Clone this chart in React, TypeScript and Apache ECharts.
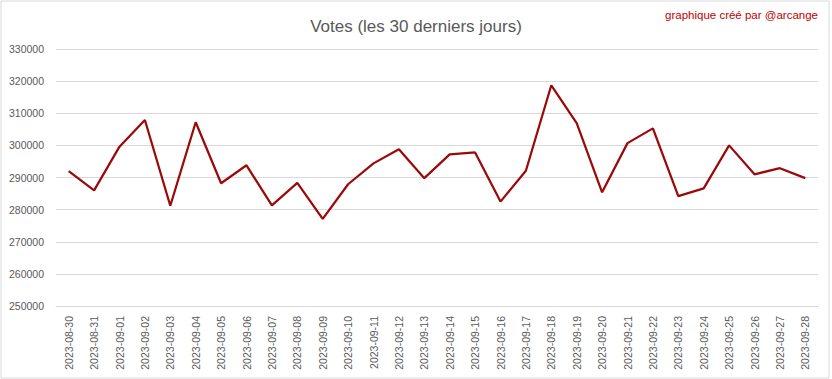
import React, { useEffect, useRef } from "react";
import * as echarts from "echarts";

const dates = [
  "2023-08-30", "2023-08-31", "2023-09-01", "2023-09-02", "2023-09-03",
  "2023-09-04", "2023-09-05", "2023-09-06", "2023-09-07", "2023-09-08",
  "2023-09-09", "2023-09-10", "2023-09-11", "2023-09-12", "2023-09-13",
  "2023-09-14", "2023-09-15", "2023-09-16", "2023-09-17", "2023-09-18",
  "2023-09-19", "2023-09-20", "2023-09-21", "2023-09-22", "2023-09-23",
  "2023-09-24", "2023-09-25", "2023-09-26", "2023-09-27", "2023-09-28",
];

const votes = [
  292000, 286000, 299600, 307900, 281200,
  307200, 288200, 293800, 281300, 288300,
  277100, 287900, 294400, 298800, 289800,
  297200, 297800, 282500, 292100, 318700,
  306900, 285400, 300700, 305300, 284200,
  286600, 300000, 291000, 292900, 289800,
];

const titleText = "Votes (les 30 derniers jours)";
const creditText = "graphique créé par @arcange";

const yMin = 250000;
const yMax = 330000;
const yStep = 10000;

export default function App() {
  const ref = useRef<HTMLDivElement>(null);

  useEffect(() => {
    if (!ref.current) return;
    const chart = echarts.init(ref.current, undefined, { renderer: "svg" });
    const font = "'Liberation Sans', Arial, sans-serif";
    chart.setOption({
      animation: false,
      backgroundColor: "#ffffff",
      title: {
        text: titleText,
        left: "center",
        top: 13,
        textStyle: {
          fontFamily: font,
          fontSize: 17,
          fontWeight: "normal",
          color: "#595959",
        },
      },
      graphic: [
        {
          type: "rect",
          shape: { x: 1, y: 1, width: 828, height: 377 },
          style: { fill: "none", stroke: "#d9d9d9", lineWidth: 1 },
          silent: true,
        },
        {
          type: "text",
          right: 14,
          top: 9,
          style: {
            text: creditText,
            fill: "#c00000",
            font: `11.5px ${font}`,
          },
        },
      ],
      grid: {
        left: 56,
        right: 14,
        top: 49,
        bottom: 73,
        containLabel: false,
      },
      xAxis: {
        type: "category",
        data: dates,
        boundaryGap: true,
        axisLine: { show: true, lineStyle: { color: "#d9d9d9", width: 1 } },
        axisTick: { show: false },
        axisLabel: {
          rotate: 90,
          interval: 0,
          margin: 10,
          fontFamily: font,
          fontSize: 10.5,
          color: "#595959",
        },
      },
      yAxis: {
        type: "value",
        min: yMin,
        max: yMax,
        interval: yStep,
        axisLine: { show: false },
        axisTick: { show: false },
        splitLine: { lineStyle: { color: "#d9d9d9", width: 1 } },
        axisLabel: {
          margin: 12,
          fontFamily: font,
          fontSize: 10.5,
          color: "#595959",
          formatter: (v: number) => String(v),
        },
      },
      series: [
        {
          type: "line",
          data: votes,
          symbol: "none",
          lineStyle: { color: "#9b0a0a", width: 2.25 },
        },
      ],
    });
    return () => chart.dispose();
  }, []);

  return (
    <div
      ref={ref}
      style={{ position: "fixed", left: 0, top: 0, width: 832, height: 379 }}
    />
  );
}
